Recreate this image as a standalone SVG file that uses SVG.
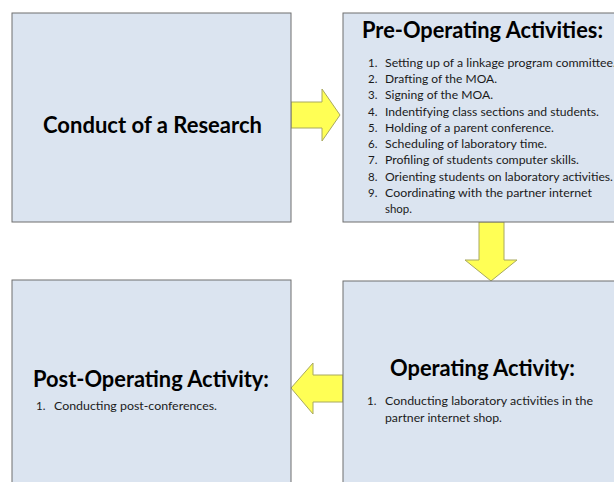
<svg xmlns="http://www.w3.org/2000/svg" width="614" height="482" viewBox="0 0 614 482">
<style>
.box{fill:#dbe4f0;stroke:#6f6f6f;stroke-width:1}
.arrow{fill:#ffff55;stroke:#a8a860;stroke-width:1}
.title{font-family:Lato,"Open Sans",sans-serif;font-weight:bold;font-size:22px;fill:#000}
.item{font-family:Lato,"Open Sans",sans-serif;font-size:11.5px;fill:#1a1a1a}
</style>
<rect width="614" height="482" fill="#ffffff"/>
<g id="connectors">
<path class="arrow" d="M291,102 H322 V89 L340,115 L322,141 V128 H291 Z"/>
<path class="arrow" d="M479,222 H504 V260 H517 L491,281 L465,260 H479 Z"/>
<path class="arrow" d="M343,375 H313 V363 L291,388 L313,414 V402 H343 Z"/>
</g>
<g id="research">
<rect class="box" x="12" y="13" width="279" height="209"/>
<text class="title" x="43" y="133" textLength="219" lengthAdjust="spacingAndGlyphs">Conduct of a Research</text>
</g>
<g id="pre-operating">
<rect class="box" x="343" y="13" width="280" height="209"/>
<text class="title" x="362" y="38" textLength="241" lengthAdjust="spacingAndGlyphs">Pre-Operating Activities:</text>
<g class="item">
<text x="368" y="67">1.</text><text x="385" y="67" textLength="231" lengthAdjust="spacingAndGlyphs">Setting up of a linkage program committee.</text>
<text x="368" y="83">2.</text><text x="385" y="83" textLength="112" lengthAdjust="spacingAndGlyphs">Drafting of the MOA.</text>
<text x="368" y="99">3.</text><text x="385" y="99" textLength="108" lengthAdjust="spacingAndGlyphs">Signing of the MOA.</text>
<text x="368" y="116">4.</text><text x="385" y="116" textLength="214" lengthAdjust="spacingAndGlyphs">Indentifying class sections and students.</text>
<text x="368" y="132">5.</text><text x="385" y="132" textLength="169" lengthAdjust="spacingAndGlyphs">Holding of a parent conference.</text>
<text x="368" y="148">6.</text><text x="385" y="148" textLength="162" lengthAdjust="spacingAndGlyphs">Scheduling of laboratory time.</text>
<text x="368" y="164">7.</text><text x="385" y="164" textLength="194" lengthAdjust="spacingAndGlyphs">Profiling of students computer skills.</text>
<text x="368" y="181">8.</text><text x="385" y="181" textLength="228" lengthAdjust="spacingAndGlyphs">Orienting students on laboratory activities.</text>
<text x="368" y="197">9.</text><text x="385" y="197" textLength="207" lengthAdjust="spacingAndGlyphs">Coordinating with the partner internet</text>
<text x="385" y="213" textLength="27" lengthAdjust="spacingAndGlyphs">shop.</text>
</g>
</g>
<g id="operating">
<rect class="box" x="343" y="281" width="280" height="210"/>
<text class="title" x="390" y="376" textLength="185" lengthAdjust="spacingAndGlyphs">Operating Activity:</text>
<g class="item">
<text x="367" y="405">1.</text><text x="385" y="405" textLength="208" lengthAdjust="spacingAndGlyphs">Conducting laboratory activities in the</text>
<text x="385" y="422" textLength="117" lengthAdjust="spacingAndGlyphs">partner internet shop.</text>
</g>
</g>
<g id="post-operating">
<rect class="box" x="12" y="280" width="279" height="211"/>
<text class="title" x="33" y="387" textLength="236" lengthAdjust="spacingAndGlyphs">Post-Operating Activity:</text>
<g class="item">
<text x="36" y="410">1.</text><text x="54" y="410" textLength="163" lengthAdjust="spacingAndGlyphs">Conducting post-conferences.</text>
</g>
</g>
</svg>
